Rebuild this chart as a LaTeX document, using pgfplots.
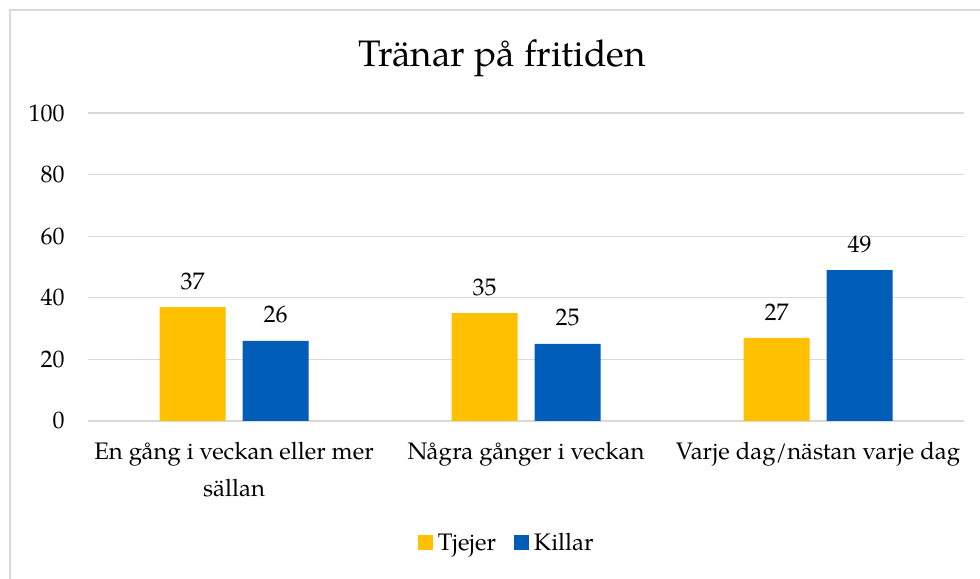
\documentclass[border=0pt]{standalone}
\usepackage{fontspec}
\setmainfont{TeX Gyre Pagella}
\usepackage{pgfplots}
\pgfplotsset{compat=1.18}
\definecolor{tj}{HTML}{FFC000}
\definecolor{ki}{HTML}{005EB8}
\definecolor{gridc}{HTML}{D9D9D9}
\begin{document}
\begin{tikzpicture}[x=1bp,y=1bp]
\path[use as bounding box] (0,0) rectangle (980,579);
\draw[gridc, line width=1.5bp] (10,0) -- (10,569) -- (980,569);
\node[font=\fontsize{37}{40}\selectfont] at (502,521) {Tränar på fritiden};
\begin{axis}[
  at={(88bp,158bp)}, anchor=south west,
  scale only axis, width=876bp, height=308bp,
  ymin=0, ymax=100, ytick={0,20,...,100},
  xmin=-0.5, xmax=2.5, xtick={0,1,2},
  xticklabels={{En gång i veckan eller mer\\sällan},{Några gånger i veckan},{Varje dag/nästan varje dag}},
  axis line style={draw=none},
  tick style={draw=none},
  ymajorgrids, grid style={gridc, line width=1.2bp},
  ybar=17bp, bar width=66bp,
  /pgf/number format/assume math mode=true,
  yticklabel style={font=\fontsize{24}{26}\selectfont, anchor=east, xshift=-20bp},
  xticklabel style={font=\fontsize{24}{38}\selectfont, align=center, anchor=north, yshift=-13bp},
  nodes near coords,
  every node near coord/.append style={font=\fontsize{24}{26}\selectfont, black, anchor=south, yshift=14bp},
  legend style={at={(0.478,-0.396)}, anchor=center, draw=none, legend columns=2,
    font=\fontsize{24}{26}\selectfont,
    /tikz/every odd column/.append style={column sep=3bp},
    /tikz/every even column/.append style={column sep=16bp}},
  legend image code/.code={\fill[#1] (0bp,-7.5bp) rectangle (15bp,7.5bp);},
]
\addplot[fill=tj, draw=none] coordinates {(0,37) (1,35) (2,27)};
\addplot[fill=ki, draw=none] coordinates {(0,26) (1,25) (2,49)};
\legend{Tjejer, Killar}
\end{axis}
\end{tikzpicture}
\end{document}
